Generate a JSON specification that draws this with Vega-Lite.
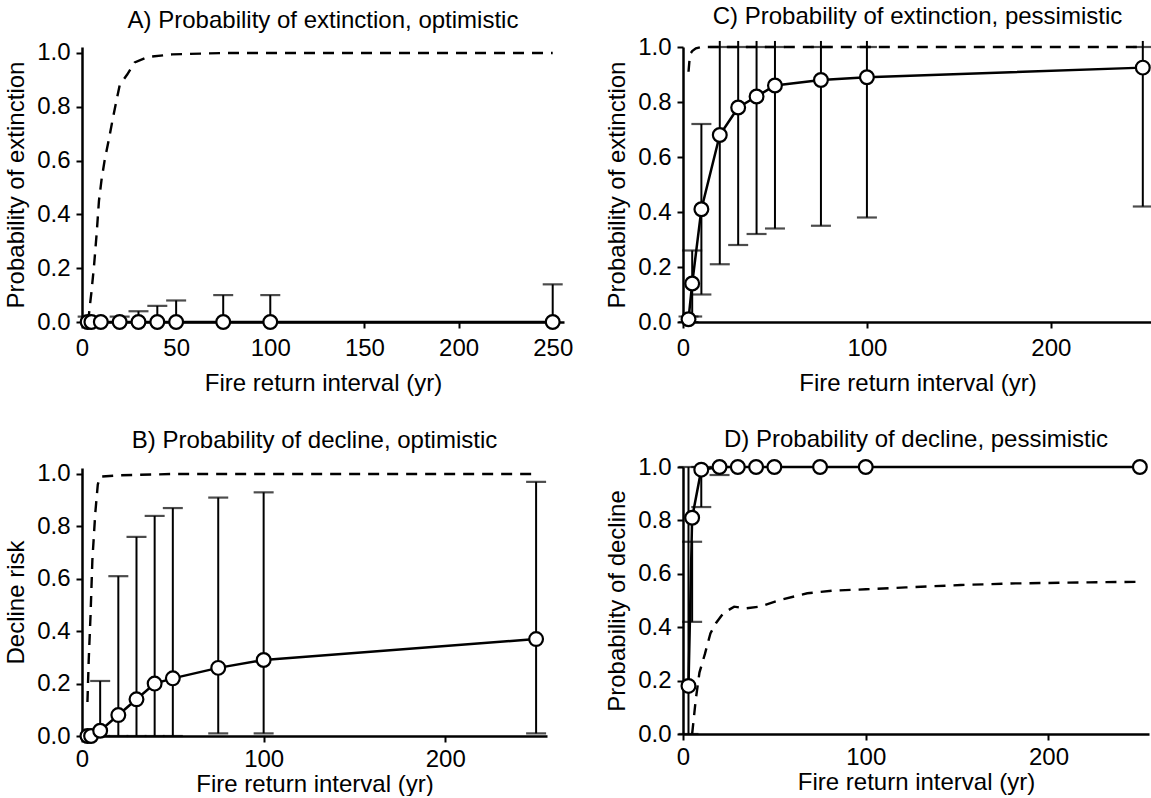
{
  "$schema": "https://vega.github.io/schema/vega-lite/v6.json",
  "background": "white",
  "padding": {"left": 4, "top": 5, "right": 0, "bottom": 0},
  "spacing": 32,
  "bounds": "full",
  "config": {
    "font": "Liberation Sans",
    "view": {"stroke": null},
    "title": {"fontSize": 24, "fontWeight": "normal", "color": "black", "font": "Liberation Sans"},
    "axis": {
      "grid": false, "domainColor": "black", "domainWidth": 2.5, "tickColor": "black", "tickWidth": 2, "tickSize": 6,
      "labelColor": "black", "labelFontSize": 24, "titleFontSize": 24, "titleFontWeight": "normal", "titleColor": "black",
      "labelFont": "Liberation Sans", "titleFont": "Liberation Sans", "labelFlush": false
    },
    "axisY": {"labelPadding": 6, "titlePadding": 8},
    "axisX": {"labelPadding": 8, "titlePadding": 11}
  },
  "datasets": {
    "pts": [
      {"p": "A", "x": 3, "mean": 0, "lo": 0, "hi": 0.02, "top": 0.02},
      {"p": "A", "x": 5, "mean": 0, "lo": 0, "hi": 0.01, "top": 0.01},
      {"p": "A", "x": 10, "mean": 0, "lo": null, "hi": null, "top": null},
      {"p": "A", "x": 20, "mean": 0, "lo": 0, "hi": 0.02, "top": 0.02},
      {"p": "A", "x": 30, "mean": 0, "lo": 0, "hi": 0.04, "top": 0.04},
      {"p": "A", "x": 40, "mean": 0, "lo": 0, "hi": 0.06, "top": 0.06},
      {"p": "A", "x": 50, "mean": 0, "lo": 0, "hi": 0.08, "top": 0.08},
      {"p": "A", "x": 75, "mean": 0, "lo": 0, "hi": 0.10, "top": 0.10},
      {"p": "A", "x": 100, "mean": 0, "lo": 0, "hi": 0.10, "top": 0.10},
      {"p": "A", "x": 250, "mean": 0, "lo": 0, "hi": 0.14, "top": 0.14},
      {"p": "B", "x": 3, "mean": 0, "lo": null, "hi": null, "top": null},
      {"p": "B", "x": 5, "mean": 0, "lo": null, "hi": null, "top": null},
      {"p": "B", "x": 10, "mean": 0.02, "lo": 0, "hi": 0.21, "top": 0.21},
      {"p": "B", "x": 20, "mean": 0.08, "lo": 0, "hi": 0.61, "top": 0.61},
      {"p": "B", "x": 30, "mean": 0.14, "lo": 0, "hi": 0.76, "top": 0.76},
      {"p": "B", "x": 40, "mean": 0.20, "lo": 0, "hi": 0.84, "top": 0.84},
      {"p": "B", "x": 50, "mean": 0.22, "lo": 0, "hi": 0.87, "top": 0.87},
      {"p": "B", "x": 75, "mean": 0.26, "lo": 0.01, "hi": 0.91, "top": 0.91},
      {"p": "B", "x": 100, "mean": 0.29, "lo": 0.01, "hi": 0.93, "top": 0.93},
      {"p": "B", "x": 250, "mean": 0.37, "lo": 0.01, "hi": 0.97, "top": 0.97},
      {"p": "C", "x": 3, "mean": 0.01, "lo": 0, "hi": 0.02, "top": 0.02},
      {"p": "C", "x": 5, "mean": 0.14, "lo": 0.02, "hi": 0.26, "top": 0.26},
      {"p": "C", "x": 10, "mean": 0.41, "lo": 0.10, "hi": 0.72, "top": 0.72},
      {"p": "C", "x": 20, "mean": 0.68, "lo": 0.21, "hi": 1.0, "top": 1.022},
      {"p": "C", "x": 30, "mean": 0.78, "lo": 0.28, "hi": 1.0, "top": 1.022},
      {"p": "C", "x": 40, "mean": 0.82, "lo": 0.32, "hi": 1.0, "top": 1.022},
      {"p": "C", "x": 50, "mean": 0.86, "lo": 0.34, "hi": 1.0, "top": 1.022},
      {"p": "C", "x": 75, "mean": 0.88, "lo": 0.35, "hi": 1.0, "top": 1.022},
      {"p": "C", "x": 100, "mean": 0.89, "lo": 0.38, "hi": 1.0, "top": 1.022},
      {"p": "C", "x": 250, "mean": 0.925, "lo": 0.42, "hi": 1.0, "top": 1.022},
      {"p": "D", "x": 3, "mean": 0.18, "lo": 0, "hi": 1.0, "top": 1.0},
      {"p": "D", "x": 5, "mean": 0.81, "lo": 0.42, "hi": 0.72, "top": 0.72},
      {"p": "D", "x": 10, "mean": 0.99, "lo": 0.85, "hi": 1.0, "top": 1.0},
      {"p": "D", "x": 20, "mean": 1.0, "lo": 0.97, "hi": 1.0, "top": 1.0},
      {"p": "D", "x": 30, "mean": 1.0, "lo": null, "hi": null, "top": null},
      {"p": "D", "x": 40, "mean": 1.0, "lo": null, "hi": null, "top": null},
      {"p": "D", "x": 50, "mean": 1.0, "lo": null, "hi": null, "top": null},
      {"p": "D", "x": 75, "mean": 1.0, "lo": null, "hi": null, "top": null},
      {"p": "D", "x": 100, "mean": 1.0, "lo": null, "hi": null, "top": null},
      {"p": "D", "x": 250, "mean": 1.0, "lo": null, "hi": null, "top": null}
    ],
    "dash": [
      {"p": "A", "x": 3.3, "y": 0.0},
      {"p": "A", "x": 4, "y": 0.05},
      {"p": "A", "x": 5, "y": 0.11},
      {"p": "A", "x": 6.4, "y": 0.21},
      {"p": "A", "x": 7.8, "y": 0.33},
      {"p": "A", "x": 9, "y": 0.45},
      {"p": "A", "x": 10.4, "y": 0.53},
      {"p": "A", "x": 12, "y": 0.6},
      {"p": "A", "x": 14.3, "y": 0.68},
      {"p": "A", "x": 16.2, "y": 0.75},
      {"p": "A", "x": 18.2, "y": 0.82},
      {"p": "A", "x": 20, "y": 0.88},
      {"p": "A", "x": 24, "y": 0.92},
      {"p": "A", "x": 28, "y": 0.965},
      {"p": "A", "x": 35, "y": 0.985},
      {"p": "A", "x": 48, "y": 0.995},
      {"p": "A", "x": 75, "y": 1.0},
      {"p": "A", "x": 250, "y": 1.0},
      {"p": "B", "x": 3, "y": 0.13},
      {"p": "B", "x": 3.7, "y": 0.29},
      {"p": "B", "x": 4.7, "y": 0.46},
      {"p": "B", "x": 5.7, "y": 0.67},
      {"p": "B", "x": 7.3, "y": 0.85},
      {"p": "B", "x": 8.7, "y": 0.96},
      {"p": "B", "x": 10, "y": 0.99},
      {"p": "B", "x": 20, "y": 0.995},
      {"p": "B", "x": 50, "y": 1.0},
      {"p": "B", "x": 250, "y": 1.0},
      {"p": "C", "x": 3, "y": 0.91},
      {"p": "C", "x": 3.5, "y": 0.95},
      {"p": "C", "x": 4, "y": 0.975},
      {"p": "C", "x": 5, "y": 0.985},
      {"p": "C", "x": 7, "y": 0.995},
      {"p": "C", "x": 10, "y": 1.0},
      {"p": "C", "x": 250, "y": 1.0},
      {"p": "D", "x": 5, "y": 0.0},
      {"p": "D", "x": 7, "y": 0.13},
      {"p": "D", "x": 9, "y": 0.23},
      {"p": "D", "x": 12, "y": 0.30},
      {"p": "D", "x": 15, "y": 0.377},
      {"p": "D", "x": 18, "y": 0.415},
      {"p": "D", "x": 22, "y": 0.452},
      {"p": "D", "x": 28, "y": 0.477},
      {"p": "D", "x": 34, "y": 0.47},
      {"p": "D", "x": 42, "y": 0.477},
      {"p": "D", "x": 52, "y": 0.50},
      {"p": "D", "x": 68, "y": 0.527},
      {"p": "D", "x": 82, "y": 0.537},
      {"p": "D", "x": 100, "y": 0.542},
      {"p": "D", "x": 122, "y": 0.549},
      {"p": "D", "x": 152, "y": 0.558},
      {"p": "D", "x": 182, "y": 0.564},
      {"p": "D", "x": 222, "y": 0.568},
      {"p": "D", "x": 250, "y": 0.57}
    ]
  },
  "hconcat": [
    {
      "spacing": 33,
      "bounds": "full",
      "vconcat": [
        {
          "width": 482, "height": 275,
          "title": {"text": "A) Probability of extinction, optimistic", "offset": 8},
          "encoding": {
            "x": {"field": "x", "type": "quantitative", "title": "Fire return interval (yr)", "scale": {"domain": [0, 256], "nice": false},
                  "axis": {"values": [0, 50, 100, 150, 200, 250]}}
          },
          "layer": [
            {"data": {"name": "dash"}, "transform": [{"filter": "datum.p === 'A'"}],
             "mark": {"type": "line", "color": "black", "strokeWidth": 2.4, "strokeDash": [11, 8]},
             "encoding": {"y": {"field": "y", "type": "quantitative", "title": "Probability of extinction", "scale": {"domain": [0, 1.0223], "nice": false},
                  "axis": {"values": [0, 0.2, 0.4, 0.6, 0.8, 1.0], "format": ".1f"}}}},
            {"data": {"name": "pts"}, "transform": [{"filter": "datum.p === 'A'"}],
             "mark": {"type": "rule", "color": "black", "strokeWidth": 2},
             "encoding": {"y": {"field": "lo", "type": "quantitative", "title": "Probability of extinction"}, "y2": {"field": "top"}}},
            {"data": {"name": "pts"}, "transform": [{"filter": "datum.p === 'A'"}],
             "mark": {"type": "tick", "orient": "horizontal", "color": "black", "size": 20, "thickness": 2.2},
             "encoding": {"y": {"field": "hi", "type": "quantitative", "title": "Probability of extinction"}}},
            {"data": {"name": "pts"}, "transform": [{"filter": "datum.p === 'A'"}],
             "mark": {"type": "line", "color": "black", "strokeWidth": 2.5},
             "encoding": {"y": {"field": "mean", "type": "quantitative", "title": "Probability of extinction"}}},
            {"data": {"name": "pts"}, "transform": [{"filter": "datum.p === 'A'"}],
             "mark": {"type": "point", "filled": true, "fill": "white", "stroke": "black", "strokeWidth": 2.2, "size": 190, "opacity": 1},
             "encoding": {"y": {"field": "mean", "type": "quantitative", "title": "Probability of extinction"}}}
          ]
        },
        {
          "width": 465, "height": 268,
          "title": {"text": "B) Probability of decline, optimistic", "offset": 9},
          "encoding": {
            "x": {"field": "x", "type": "quantitative", "title": "Fire return interval (yr)", "scale": {"domain": [0, 256], "nice": false},
                  "axis": {"values": [0, 100, 200], "labelPadding": 5, "titlePadding": 1}}
          },
          "layer": [
            {"data": {"name": "dash"}, "transform": [{"filter": "datum.p === 'B'"}],
             "mark": {"type": "line", "color": "black", "strokeWidth": 2.4, "strokeDash": [11, 8]},
             "encoding": {"y": {"field": "y", "type": "quantitative", "title": "Decline risk", "scale": {"domain": [0, 1.0229], "nice": false},
                  "axis": {"values": [0, 0.2, 0.4, 0.6, 0.8, 1.0], "format": ".1f"}}}},
            {"data": {"name": "pts"}, "transform": [{"filter": "datum.p === 'B'"}],
             "mark": {"type": "rule", "color": "black", "strokeWidth": 2},
             "encoding": {"y": {"field": "lo", "type": "quantitative", "title": "Decline risk"}, "y2": {"field": "top"}}},
            {"data": {"name": "pts"}, "transform": [{"filter": "datum.p === 'B'"}],
             "mark": {"type": "tick", "orient": "horizontal", "color": "black", "size": 20, "thickness": 2.2},
             "encoding": {"y": {"field": "lo", "type": "quantitative", "title": "Decline risk"}}},
            {"data": {"name": "pts"}, "transform": [{"filter": "datum.p === 'B'"}],
             "mark": {"type": "tick", "orient": "horizontal", "color": "black", "size": 20, "thickness": 2.2},
             "encoding": {"y": {"field": "hi", "type": "quantitative", "title": "Decline risk"}}},
            {"data": {"name": "pts"}, "transform": [{"filter": "datum.p === 'B'"}],
             "mark": {"type": "line", "color": "black", "strokeWidth": 2.5},
             "encoding": {"y": {"field": "mean", "type": "quantitative", "title": "Decline risk"}}},
            {"data": {"name": "pts"}, "transform": [{"filter": "datum.p === 'B'"}],
             "mark": {"type": "point", "filled": true, "fill": "white", "stroke": "black", "strokeWidth": 2.2, "size": 190, "opacity": 1},
             "encoding": {"y": {"field": "mean", "type": "quantitative", "title": "Decline risk"}}}
          ]
        }
      ]
    },
    {
      "spacing": 33,
      "bounds": "full",
      "vconcat": [
        {
          "width": 469, "height": 275,
          "title": {"text": "C) Probability of extinction, pessimistic", "offset": 6},
          "encoding": {
            "x": {"field": "x", "type": "quantitative", "title": "Fire return interval (yr)", "scale": {"domain": [0, 255], "nice": false},
                  "axis": {"values": [0, 100, 200]}}
          },
          "layer": [
            {"data": {"name": "dash"}, "transform": [{"filter": "datum.p === 'C'"}],
             "mark": {"type": "line", "color": "black", "strokeWidth": 2.4, "strokeDash": [11, 8]},
             "encoding": {"y": {"field": "y", "type": "quantitative", "title": "Probability of extinction", "scale": {"domain": [0, 1], "nice": false},
                  "axis": {"values": [0, 0.2, 0.4, 0.6, 0.8, 1.0], "format": ".1f"}}}},
            {"data": {"name": "pts"}, "transform": [{"filter": "datum.p === 'C'"}],
             "mark": {"type": "rule", "color": "black", "strokeWidth": 2},
             "encoding": {"y": {"field": "lo", "type": "quantitative", "title": "Probability of extinction"}, "y2": {"field": "top"}}},
            {"data": {"name": "pts"}, "transform": [{"filter": "datum.p === 'C'"}],
             "mark": {"type": "tick", "orient": "horizontal", "color": "black", "size": 20, "thickness": 2.2},
             "encoding": {"y": {"field": "lo", "type": "quantitative", "title": "Probability of extinction"}}},
            {"data": {"name": "pts"}, "transform": [{"filter": "datum.p === 'C'"}],
             "mark": {"type": "tick", "orient": "horizontal", "color": "black", "size": 20, "thickness": 2.2},
             "encoding": {"y": {"field": "hi", "type": "quantitative", "title": "Probability of extinction"}}},
            {"data": {"name": "pts"}, "transform": [{"filter": "datum.p === 'C'"}],
             "mark": {"type": "line", "color": "black", "strokeWidth": 2.5},
             "encoding": {"y": {"field": "mean", "type": "quantitative", "title": "Probability of extinction"}}},
            {"data": {"name": "pts"}, "transform": [{"filter": "datum.p === 'C'"}],
             "mark": {"type": "point", "filled": true, "fill": "white", "stroke": "black", "strokeWidth": 2.2, "size": 190, "opacity": 1},
             "encoding": {"y": {"field": "mean", "type": "quantitative", "title": "Probability of extinction"}}}
          ]
        },
        {
          "width": 466, "height": 267,
          "title": {"text": "D) Probability of decline, pessimistic", "offset": 3},
          "encoding": {
            "x": {"field": "x", "type": "quantitative", "title": "Fire return interval (yr)", "scale": {"domain": [0, 255], "nice": false},
                  "axis": {"values": [0, 100, 200], "labelPadding": 5, "titlePadding": 1}}
          },
          "layer": [
            {"data": {"name": "dash"}, "transform": [{"filter": "datum.p === 'D'"}],
             "mark": {"type": "line", "color": "black", "strokeWidth": 2.4, "strokeDash": [11, 8]},
             "encoding": {"y": {"field": "y", "type": "quantitative", "title": "Probability of decline", "scale": {"domain": [0, 1], "nice": false},
                  "axis": {"values": [0, 0.2, 0.4, 0.6, 0.8, 1.0], "format": ".1f"}}}},
            {"data": {"name": "pts"}, "transform": [{"filter": "datum.p === 'D'"}],
             "mark": {"type": "rule", "color": "black", "strokeWidth": 2},
             "encoding": {"y": {"field": "lo", "type": "quantitative", "title": "Probability of decline"}, "y2": {"field": "top"}}},
            {"data": {"name": "pts"}, "transform": [{"filter": "datum.p === 'D'"}],
             "mark": {"type": "tick", "orient": "horizontal", "color": "black", "size": 20, "thickness": 2.2},
             "encoding": {"y": {"field": "lo", "type": "quantitative", "title": "Probability of decline"}}},
            {"data": {"name": "pts"}, "transform": [{"filter": "datum.p === 'D'"}],
             "mark": {"type": "tick", "orient": "horizontal", "color": "black", "size": 20, "thickness": 2.2},
             "encoding": {"y": {"field": "hi", "type": "quantitative", "title": "Probability of decline"}}},
            {"data": {"name": "pts"}, "transform": [{"filter": "datum.p === 'D'"}],
             "mark": {"type": "line", "color": "black", "strokeWidth": 2.5},
             "encoding": {"y": {"field": "mean", "type": "quantitative", "title": "Probability of decline"}}},
            {"data": {"name": "pts"}, "transform": [{"filter": "datum.p === 'D'"}],
             "mark": {"type": "point", "filled": true, "fill": "white", "stroke": "black", "strokeWidth": 2.2, "size": 190, "opacity": 1},
             "encoding": {"y": {"field": "mean", "type": "quantitative", "title": "Probability of decline"}}}
          ]
        }
      ]
    }
  ]
}
